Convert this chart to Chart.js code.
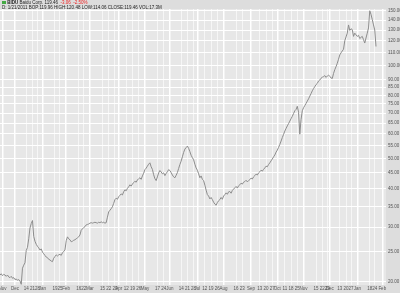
<!DOCTYPE html>
<html>
<head>
<meta charset="utf-8">
<script src="https://cdn.jsdelivr.net/npm/chart.js@4.4.1/dist/chart.umd.min.js"></script>
<style>
  html, body { margin: 0; padding: 0; background: #dddddd; }
  #wrap { position: relative; width: 400px; height: 293px; }
  #hdr1, #hdr2 { position: absolute; left: 2px; font-family: "Liberation Sans", Arial, sans-serif; font-size: 4.5px; line-height: 5px; color: #222; white-space: nowrap; }
  #hdr1 { top: 0px; }
  #hdr2 { top: 4.5px; }
  .sq { display: inline-block; width: 4px; height: 3px; background: #4a4; vertical-align: middle; }
  .red { color: #e22; }
</style>
</head>
<body>
<div id="wrap">
  <canvas id="chart" width="400" height="293"></canvas>
  <div id="hdr1"><span class="sq"></span> <b>BIDU</b> Baidu Corp. 119.46 &nbsp;<span class="red">-3.06 &nbsp;-2.50%</span></div>
  <div id="hdr2">D: 1/21/2011 BOP:119.96 HIGH:120.48 LOW:114.06 CLOSE:119.46 VOL:17.3M</div>
</div>
<script>
// session range and market holidays (trading days are the x categories)
const firstDay = '2009-11-12';
const lastDay = '2011-02-04';
const holidays = ['2009-11-26', '2009-12-25', '2010-01-01', '2010-01-18', '2010-02-15', '2010-04-02',
  '2010-05-31', '2010-07-05', '2010-09-06', '2010-11-25', '2010-12-24', '2011-01-17'];

// daily closes
const closes = [
  21.0, 21.2, 20.9, 21.1, 21.0, 20.8, 21.0, 20.7, 20.6, 20.8,
  20.5, 20.6, 20.3, 20.4, 20.2, 20.3, 20.1, 19.6, 22.1, 22.6,
  23.0, 25.2, 25.8, 27.5, 29.8, 30.8, 31.5, 28.0, 27.0, 26.4,
  26.0, 25.7, 25.3, 25.5, 24.9, 24.6, 24.3, 24.0, 23.9, 23.6,
  23.5, 23.3, 23.2, 23.8, 24.1, 24.4, 24.2, 24.4, 24.5, 24.3,
  24.8, 25.0, 25.3, 27.1, 27.9, 27.5, 27.3, 26.9, 27.0, 27.2,
  27.3, 27.5, 27.7, 27.9, 28.3, 29.3, 29.6, 29.9, 30.1, 30.5,
  30.6, 30.7, 30.9, 31.0, 30.9, 31.0, 31.1, 31.0, 30.9, 31.1,
  31.0, 31.2, 31.0, 31.1, 30.9, 31.0, 32.3, 33.6, 34.0, 34.4,
  34.9, 35.8, 36.8, 37.2, 36.9, 37.6, 38.0, 38.4, 38.1, 39.0,
  39.6, 39.3, 40.0, 40.5, 41.1, 40.7, 41.3, 41.8, 42.2, 41.9,
  42.6, 43.0, 43.3, 42.8, 43.9, 44.8, 46.0, 46.5, 47.2, 47.9,
  48.4, 47.0, 46.1, 44.3, 43.0, 42.4, 43.6, 44.9, 45.7, 45.2,
  44.6, 44.9, 44.0, 44.7, 45.3, 46.0, 45.7, 45.0, 44.2, 43.6,
  43.3, 44.1, 45.0, 46.4, 47.8, 49.0, 50.6, 52.3, 53.6, 54.2,
  54.8, 53.9, 52.6, 51.2, 50.3, 49.5, 47.9, 46.6, 45.8, 44.6,
  43.3, 43.9, 42.8, 42.4, 41.0, 39.5, 38.2, 37.8, 37.0, 37.4,
  36.8, 36.1, 35.6, 35.3, 36.0, 36.5, 36.8, 37.4, 36.9, 37.8,
  38.2, 38.7, 38.3, 39.0, 39.1, 38.6, 39.4, 39.8, 40.2, 40.6,
  40.1, 40.8, 41.1, 41.6, 41.3, 41.9, 42.1, 42.5, 42.0, 42.4,
  42.7, 43.2, 42.9, 43.6, 44.0, 44.5, 44.2, 44.9, 45.3, 45.8,
  45.5, 46.1, 46.6, 47.2, 47.0, 47.8, 48.4, 49.1, 49.8, 50.6,
  51.3, 52.4, 53.2, 54.3, 55.5, 56.9, 58.4, 59.8, 61.3, 62.5,
  63.7, 64.8, 66.0, 67.2, 68.4, 69.8, 71.3, 72.0, 73.7, 70.5,
  59.9, 66.8, 71.3, 72.9, 74.1, 75.3, 76.6, 77.9, 79.5, 81.0,
  82.7, 84.1, 85.3, 86.6, 87.4, 88.9, 89.6, 90.8, 91.5, 91.9,
  92.6, 91.4, 92.3, 93.0, 92.1, 91.0, 90.6, 94.1, 96.8, 99.0,
  101.5, 104.6, 108.0, 109.7, 111.2, 112.7, 120.0, 123.5, 127.0, 135.0,
  129.6, 131.2, 130.4, 124.0, 127.0, 125.4, 124.0, 125.0, 122.0, 123.1,
  124.0, 121.0, 118.0, 122.5, 127.0, 132.0, 150.0, 146.0, 140.6, 135.0,
  130.0, 115.0
];

// x-axis labels: [date, text]
const xTickLabels = [
  ['2009-11-16', 'Nov'],
  ['2009-12-01', 'Dec'], ['2009-12-14', '14'], ['2009-12-21', '21'], ['2009-12-28', '28'],
  ['2010-01-04', 'Jan'], ['2010-01-19', '19'], ['2010-01-25', '25'],
  ['2010-02-01', 'Feb'], ['2010-02-16', '16'], ['2010-02-22', '22'],
  ['2010-03-01', 'Mar'], ['2010-03-15', '15'], ['2010-03-22', '22'], ['2010-03-29', '29'],
  ['2010-04-01', 'Apr'], ['2010-04-12', '12'], ['2010-04-19', '19'], ['2010-04-26', '26'],
  ['2010-05-03', 'May'], ['2010-05-17', '17'], ['2010-05-24', '24'],
  ['2010-06-01', 'Jun'], ['2010-06-14', '14'], ['2010-06-21', '21'], ['2010-06-28', '28'],
  ['2010-07-01', 'Jul'], ['2010-07-12', '12'], ['2010-07-19', '19'], ['2010-07-26', '26'],
  ['2010-08-02', 'Aug'], ['2010-08-16', '16'], ['2010-08-23', '23'],
  ['2010-09-01', 'Sep'], ['2010-09-13', '13'], ['2010-09-20', '20'], ['2010-09-27', '27'],
  ['2010-10-01', 'Oct'], ['2010-10-11', '11'], ['2010-10-18', '18'], ['2010-10-25', '25'],
  ['2010-11-01', 'Nov'], ['2010-11-15', '15'], ['2010-11-22', '22'], ['2010-11-29', '29'],
  ['2010-12-01', 'Dec'], ['2010-12-13', '13'], ['2010-12-20', '20'], ['2010-12-27', '27'],
  ['2011-01-03', 'Jan'], ['2011-01-18', '18'], ['2011-01-24', '24'],
  ['2011-02-01', 'Feb']
];

// price axis labels
const yTicks = [20, 22.5, 25, 27.5, 30, 32.5, 35, 37.5, 40, 42.5, 45, 47.5, 50, 52.5, 55, 57.5,
  60, 62.5, 65, 67.5, 70, 72.5, 75, 77.5, 80, 82.5, 85, 87.5, 90, 95, 100, 105, 110, 115,
  120, 125, 130, 135, 140, 145, 150];

function tradingDays(start, end, closed) {
  const out = [];
  const d = new Date(start + 'T00:00:00Z');
  const stop = new Date(end + 'T00:00:00Z');
  while (d <= stop) {
    const iso = d.toISOString().slice(0, 10);
    const wd = d.getUTCDay();
    if (wd !== 0 && wd !== 6 && !closed.includes(iso)) out.push(iso);
    d.setUTCDate(d.getUTCDate() + 1);
  }
  return out;
}

const days = tradingDays(firstDay, lastDay, holidays);
const tickText = {};
xTickLabels.forEach(([date, text]) => { tickText[days.indexOf(date)] = text; });
const isMonth = t => /^[A-Z]/.test(t || '');

const plotBg = {
  id: 'plotBg',
  beforeDraw(chart) {
    const { ctx, chartArea: a } = chart;
    ctx.save();
    ctx.fillStyle = '#e7e7e7';
    ctx.fillRect(a.left, a.top, a.right - a.left, a.bottom - a.top);
    ctx.restore();
  }
};

Chart.defaults.font.family = "'Liberation Sans', Arial, sans-serif";

new Chart(document.getElementById('chart'), {
  type: 'line',
  data: {
    labels: days,
    datasets: [{
      data: closes,
      borderColor: '#8c8c8c',
      borderWidth: 1,
      pointRadius: 0,
      tension: 0,
      fill: false
    }]
  },
  options: {
    responsive: false,
    animation: false,
    layout: { padding: { top: 9, left: 0, right: 0, bottom: 0 } },
    plugins: { legend: { display: false }, tooltip: { enabled: false } },
    scales: {
      x: {
        type: 'category',
        border: { display: false },
        grid: {
          drawTicks: false,
          color: ctx => isMonth(tickText[ctx.tick && ctx.tick.value]) ? '#ffffff' : '#f6f6f6',
          lineWidth: ctx => isMonth(tickText[ctx.tick && ctx.tick.value]) ? 1.5 : 1
        },
        ticks: {
          autoSkip: false,
          maxRotation: 0,
          padding: 1.5,
          color: '#555',
          font: { size: 4.5 },
          callback: value => tickText[value]
        },
        afterBuildTicks: scale => {
          scale.ticks = Object.keys(tickText).map(Number).sort((a, b) => a - b).map(v => ({ value: v }));
        },
        afterFit: scale => {
          scale.height = 8;
          scale.paddingLeft = 0;
          scale.paddingRight = 0;
        }
      },
      y: {
        type: 'logarithmic',
        position: 'right',
        min: 19.5,
        max: 152,
        border: { display: false },
        grid: { drawTicks: false, color: '#ffffff', lineWidth: 1 },
        ticks: {
          padding: 2,
          color: '#555',
          font: { size: 4.5 },
          callback: v => Number(v).toFixed(2)
        },
        afterBuildTicks: scale => {
          scale.ticks = yTicks.map(v => ({ value: v }));
        },
        afterFit: scale => {
          scale.width = 14;
          scale.paddingTop = 0;
          scale.paddingBottom = 0;
        }
      }
    }
  },
  plugins: [plotBg]
});
</script>
</body>
</html>
